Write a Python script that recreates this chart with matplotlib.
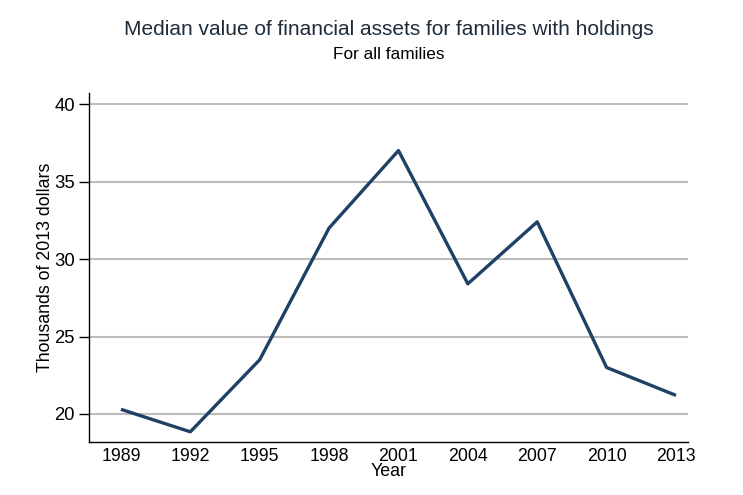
import matplotlib
matplotlib.use('Agg')
import matplotlib.pyplot as plt

# survey years and median financial assets (thousands of 2013 dollars)
years = [1989, 1992, 1995, 1998, 2001, 2004, 2007, 2010, 2013]
median_assets = [20.3, 18.85, 23.5, 32.0, 37.0, 28.4, 32.4, 23.0, 21.2]
yticks = [20, 25, 30, 35, 40]

plt.rcParams['font.family'] = ['Liberation Sans', 'DejaVu Sans']

fig = plt.figure(figsize=(7.43, 4.95), dpi=100)
ax = fig.add_axes([0.1198, 0.107, 0.8062, 0.705])

ax.plot(years, median_assets, color='#1f4166', linewidth=2.4, solid_capstyle='butt', zorder=3)

ax.set_xlim(1987.62, 2013.52)
ax.set_ylim(18.19, 40.71)
ax.set_xticks(years)
ax.set_yticks(yticks)
ax.tick_params(axis='x', length=0, labelsize=12.8, pad=4)
ax.tick_params(axis='y', length=7, width=1, labelsize=13.3, pad=3)
for y in yticks:
    ax.axhline(y, color='#bdbdbd', linewidth=1.5, zorder=1)

ax.spines['top'].set_visible(False)
ax.spines['right'].set_visible(False)
ax.spines['left'].set_linewidth(1)
ax.spines['bottom'].set_linewidth(1)

ax.set_xlabel('Year', fontsize=12.8, labelpad=-1)
ax.set_ylabel('Thousands of 2013 dollars', fontsize=12.8, labelpad=0)

# titles are centred over the plot area, not the figure
fig.text(0.523, 0.941, 'Median value of financial assets for families with holdings',
         ha='center', va='center', fontsize=15, color='#1e2c3a')
fig.text(0.523, 0.889, 'For all families', ha='center', va='center', fontsize=12.4)

fig.savefig('out.png', dpi=100)
